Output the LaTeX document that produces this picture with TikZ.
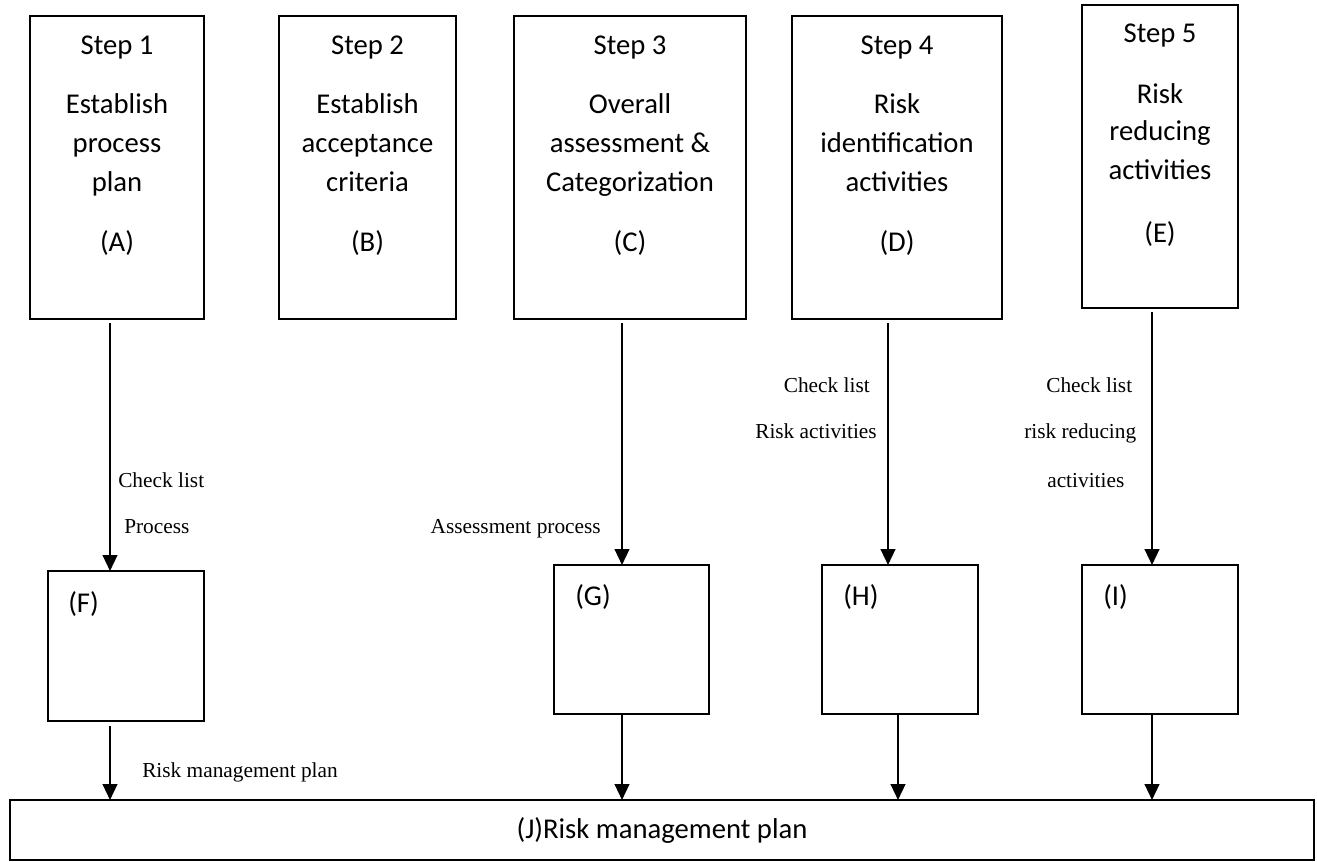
\documentclass[tikz,border=0pt]{standalone}
\usepackage{fontspec}
\setmainfont{Carlito}
\newfontfamily\tnr{Liberation Serif}
\usetikzlibrary{arrows.meta}
\tikzset{
  box/.style={draw, line width=1.7pt, inner sep=0pt, outer sep=0pt},
  thinbox/.style={draw, line width=1.4pt, inner sep=0pt, outer sep=0pt},
  btxt/.style={inner sep=0pt, anchor=base, font=\fontsize{21.5}{26}\selectfont},
  ltxt/.style={inner sep=0pt, anchor=base, font=\fontsize{21.5}{26}\selectfont},
  lab/.style={inner sep=0pt, anchor=base west, font=\tnr\fontsize{16}{19}\selectfont},
  labr/.style={inner sep=0pt, anchor=base east, font=\tnr\fontsize{16}{19}\selectfont},
  arr/.style={line width=1.7pt, -{Triangle[length=12pt,width=11pt]}}
}
\begin{document}
\begin{tikzpicture}[x=0.75pt,y=-0.75pt]
\useasboundingbox (0,0) rectangle (1317,861);
% top boxes
\node[box, minimum width=130.5pt, minimum height=227.25pt] (A) at (117,167.5) {};
\node[box, minimum width=132.75pt, minimum height=227.25pt] (B) at (367.5,167.5) {};
\node[box, minimum width=174pt, minimum height=227.25pt] (C) at (630,167.5) {};
\node[box, minimum width=157.5pt, minimum height=227.25pt] (D) at (897,167.5) {};
\node[thinbox, minimum width=117pt, minimum height=227.25pt] (E) at (1160,156.5) {};
% bottom boxes
\node[box, minimum width=117pt, minimum height=112.5pt] (F) at (126,646) {};
\node[box, minimum width=116.25pt, minimum height=111.75pt] (G) at (631.5,639.5) {};
\node[box, minimum width=117pt, minimum height=111.75pt] (H) at (900,639.5) {};
\node[box, minimum width=117pt, minimum height=111.75pt] (I) at (1160,639.5) {};
\node[thinbox, minimum width=978pt, minimum height=45pt] (J) at (662,830) {};
% texts in top boxes
\node[btxt] (a1) at (117,54) {Step 1};
\node[btxt] (a2) at (117,113) {Establish};
\node[btxt] (a3) at (117,152) {process};
\node[btxt] (a4) at (117,191) {plan};
\node[btxt] (a5) at (117,251) {(A)};
\node[btxt] (b1) at (367.5,54) {Step 2};
\node[btxt] (b2) at (367.5,113) {Establish};
\node[btxt] (b3) at (367.5,152) {acceptance};
\node[btxt] (b4) at (367.5,191) {criteria};
\node[btxt] (b5) at (367.5,251) {(B)};
\node[btxt] (c1) at (630,54) {Step 3};
\node[btxt] (c2) at (630,113) {Overall};
\node[btxt] (c3) at (630,152) {assessment \&};
\node[btxt] (c4) at (630,191) {Categorization};
\node[btxt] (c5) at (630,251) {(C)};
\node[btxt] (d1) at (897,54) {Step 4};
\node[btxt] (d2) at (897,113) {Risk};
\node[btxt] (d3) at (897,152) {identification};
\node[btxt] (d4) at (897,191) {activities};
\node[btxt] (d5) at (897,251) {(D)};
\node[btxt] (e1) at (1160,42) {Step 5};
\node[btxt] (e2) at (1160,103) {Risk};
\node[btxt] (e3) at (1160,140) {reducing};
\node[btxt] (e4) at (1160,179) {activities};
\node[btxt] (e5) at (1160,242) {(E)};
% texts in bottom boxes
\node[ltxt, anchor=base west] (f1) at (68,612) {(F)};
\node[ltxt, anchor=base west] (g1) at (575,605) {(G)};
\node[ltxt, anchor=base west] (h1) at (843,605) {(H)};
\node[ltxt, anchor=base west] (i1) at (1103,605) {(I)};
\node[ltxt] (j1) at (662,838) {(J)Risk management plan};
% connector x positions
\coordinate (xA) at (110,0);
\coordinate (xC) at (622,0);
\coordinate (xD) at (888,0);
\coordinate (xE) at (1152,0);
\coordinate (xH) at (898,0);
\coordinate (xF) at (110,0);
% top arrows
\draw[arr, shorten <=3pt] (A.south -| xA) -- (F.north -| xA);
\draw[arr, shorten <=3pt] (C.south -| xC) -- (G.north -| xC);
\draw[arr, shorten <=3pt] (D.south -| xD) -- (H.north -| xD);
\draw[arr, shorten <=3pt] (E.south -| xE) -- (I.north -| xE);
% bottom arrows
\draw[arr, shorten <=4pt] (F.south -| xF) -- (J.north -| xF);
\draw[arr] (G.south -| xC) -- (J.north -| xC);
\draw[arr] (H.south -| xH) -- (J.north -| xH);
\draw[arr] (I.south -| xE) -- (J.north -| xE);
% labels
\node[lab] (l1) at (118,487) {Check list};
\node[lab] (l2) at (124,533) {Process};
\node[labr] (l3) at (601,533) {Assessment process};
\node[labr] (l4) at (870,392) {Check list};
\node[labr] (l5) at (877,438) {Risk activities};
\node[lab] (l6) at (1046,392) {Check list};
\node[lab] (l7) at (1024,438) {risk reducing};
\node[lab] (l8) at (1047,487) {activities};
\node[lab] (l9) at (142,777) {Risk management plan};
\end{tikzpicture}
\end{document}
